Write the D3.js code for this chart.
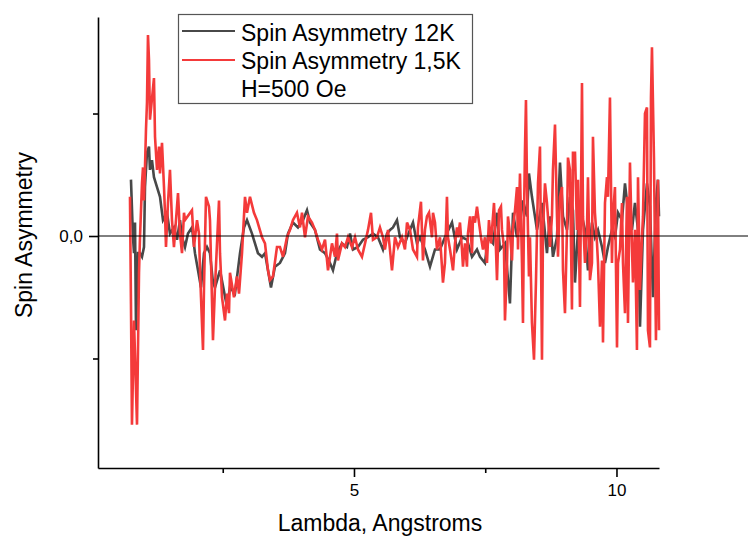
<!DOCTYPE html>
<html>
<head>
<meta charset="utf-8">
<script src="https://cdn.jsdelivr.net/npm/d3@7"></script>
<style>
  body { margin: 0; background: #fff; }
  text { font-family: Arial, "Liberation Sans", sans-serif; fill: #000; }
</style>
</head>
<body>
<div id="viz"></div>
<script>
// Spin asymmetry vs wavelength, two temperatures at H = 500 Oe

var lambda12K = [0.752,0.790,0.810,0.829,0.848,0.886,0.924,0.962,1.000,1.019,1.057,1.095,1.114,1.152,1.190,1.248,1.305,1.362,1.438,1.495,1.571,1.629,1.686,1.724,1.781,1.838,1.914,1.971,2.029,2.086,2.143,2.200,2.257,2.314,2.352,2.448,2.581,2.638,2.733,2.829,2.905,2.962,3.057,3.171,3.248,3.305,3.362,3.419,3.495,3.590,3.686,3.743,3.838,3.933,4.029,4.105,4.162,4.257,4.352,4.448,4.543,4.600,4.676,4.771,4.867,4.924,4.981,5.076,5.171,5.267,5.362,5.457,5.552,5.629,5.686,5.743,5.819,5.876,5.971,6.010,6.124,6.200,6.257,6.352,6.448,6.543,6.638,6.733,6.867,6.962,7.057,7.152,7.248,7.343,7.400,7.495,7.552,7.648,7.724,7.781,7.876,7.971,8.029,8.105,8.162,8.219,8.295,8.333,8.390,8.486,8.581,8.676,8.733,8.790,8.867,8.924,8.981,9.057,9.114,9.171,9.210,9.267,9.343,9.400,9.457,9.533,9.590,9.648,9.724,9.781,9.838,9.914,9.971,10.029,10.105,10.162,10.219,10.295,10.352,10.410,10.448,10.505,10.581,10.638,10.695,10.752,10.790,10.810];
var asym12K = [0.046,-0.001,-0.014,0.011,-0.077,-0.014,-0.014,-0.017,-0.009,0.040,0.068,0.073,0.054,0.062,0.048,0.040,0.032,0.013,0.019,0.002,0.007,-0.003,0.013,-0.001,-0.009,0.002,0.007,-0.014,-0.028,-0.042,-0.014,-0.009,-0.014,-0.038,-0.042,-0.028,-0.058,-0.042,-0.047,-0.014,0.007,0.013,0.002,-0.014,-0.017,-0.014,-0.028,-0.042,-0.025,-0.022,-0.014,0.002,0.011,0.007,0.013,0.021,0.011,0.005,-0.011,-0.014,-0.022,-0.028,-0.014,-0.006,-0.009,0.002,-0.011,-0.009,-0.003,-0.001,0.002,-0.001,-0.011,0.002,0.005,0.007,0.013,-0.001,-0.006,-0.001,0.011,-0.006,-0.001,-0.011,-0.025,-0.011,-0.011,-0.001,0.011,-0.011,-0.001,-0.003,-0.017,-0.011,-0.017,-0.022,-0.001,-0.006,0.019,-0.011,-0.006,-0.055,0.019,-0.001,0.011,0.029,0.016,0.051,0.032,0.005,0.027,-0.014,0.016,-0.017,-0.001,0.060,0.016,0.005,0.032,0.021,-0.038,0.005,0.016,0.005,-0.028,0.011,-0.001,0.005,-0.009,-0.022,-0.009,0.005,-0.001,0.019,0.013,0.043,0.021,0.005,0.027,0.005,-0.074,0.005,0.043,0.024,-0.050,0.027,0.046,0.016];

var lambda15K = [0.733,0.752,0.771,0.810,0.867,0.905,0.924,0.962,0.981,1.000,1.019,1.038,1.057,1.076,1.095,1.114,1.190,1.210,1.248,1.286,1.305,1.343,1.381,1.400,1.419,1.457,1.495,1.533,1.571,1.648,1.686,1.724,1.762,1.781,1.914,1.952,2.010,2.048,2.067,2.086,2.124,2.143,2.181,2.238,2.257,2.314,2.352,2.429,2.448,2.486,2.543,2.581,2.619,2.638,2.714,2.771,2.810,2.867,2.924,2.962,3.019,3.095,3.152,3.248,3.305,3.362,3.400,3.457,3.533,3.590,3.648,3.724,3.781,3.838,3.914,3.971,4.010,4.067,4.124,4.200,4.257,4.314,4.390,4.448,4.505,4.581,4.638,4.676,4.695,4.771,4.829,4.886,4.962,5.019,5.076,5.152,5.210,5.267,5.324,5.362,5.438,5.495,5.552,5.590,5.648,5.724,5.781,5.838,5.914,5.971,6.010,6.067,6.124,6.200,6.219,6.276,6.314,6.352,6.390,6.429,6.486,6.505,6.543,6.581,6.638,6.676,6.695,6.733,6.771,6.790,6.829,6.867,6.886,6.924,6.962,6.981,7.019,7.057,7.076,7.114,7.152,7.171,7.210,7.248,7.267,7.305,7.343,7.381,7.419,7.457,7.495,7.533,7.571,7.610,7.648,7.667,7.705,7.724,7.762,7.800,7.819,7.857,7.876,7.914,7.933,7.971,8.010,8.029,8.067,8.105,8.124,8.162,8.200,8.219,8.238,8.257,8.276,8.295,8.333,8.352,8.390,8.429,8.467,8.505,8.543,8.581,8.600,8.638,8.676,8.695,8.733,8.771,8.790,8.829,8.867,8.886,8.924,8.962,8.981,9.019,9.057,9.076,9.114,9.152,9.171,9.210,9.248,9.267,9.305,9.343,9.362,9.400,9.438,9.457,9.495,9.533,9.552,9.590,9.629,9.648,9.686,9.724,9.743,9.781,9.819,9.838,9.876,9.914,9.933,9.971,10.010,10.029,10.067,10.105,10.124,10.162,10.200,10.219,10.257,10.295,10.314,10.352,10.390,10.410,10.448,10.486,10.505,10.543,10.581,10.600,10.638,10.657,10.676,10.714,10.752,10.790,10.810];
var asym15K = [0.032,-0.055,-0.154,-0.069,-0.154,-0.030,-0.001,0.043,0.056,0.029,0.056,0.087,0.109,0.164,0.144,0.095,0.129,0.081,0.054,0.073,0.051,0.076,0.040,0.019,-0.009,0.027,0.054,0.013,-0.009,0.035,0.002,-0.014,0.019,0.013,0.021,-0.009,0.013,0.002,-0.028,-0.050,-0.093,-0.042,0.032,0.024,0.013,-0.085,-0.042,0.029,-0.014,-0.050,-0.069,-0.047,-0.063,-0.030,-0.050,-0.033,-0.047,-0.014,0.032,0.019,0.032,0.019,0.013,-0.001,-0.006,-0.028,-0.036,-0.033,-0.009,-0.009,-0.017,-0.001,0.005,0.013,0.019,0.007,0.019,-0.001,0.016,0.011,0.005,-0.003,-0.011,-0.003,-0.028,-0.006,-0.017,0.002,-0.020,-0.006,-0.009,-0.001,-0.009,-0.001,-0.011,-0.017,-0.006,0.005,0.019,-0.003,-0.001,0.007,-0.001,-0.011,0.005,-0.028,-0.001,-0.009,-0.001,-0.011,0.011,0.005,-0.011,-0.017,0.007,0.028,-0.020,0.005,0.016,0.019,-0.001,0.019,0.011,-0.011,-0.001,-0.025,-0.038,-0.022,0.032,-0.001,-0.011,-0.022,-0.028,-0.006,0.007,-0.001,0.011,-0.011,-0.025,-0.006,-0.025,0.002,0.016,-0.014,0.016,0.011,0.024,0.011,-0.001,-0.011,-0.001,-0.022,0.013,-0.006,0.016,0.027,-0.011,-0.036,0.021,0.024,0.005,-0.009,-0.069,-0.025,0.016,0.002,-0.020,0.007,0.021,0.040,-0.011,0.051,-0.022,-0.071,0.016,0.070,0.111,0.043,-0.033,-0.001,-0.071,-0.101,-0.036,0.043,0.073,-0.101,0.005,0.043,0.027,0.016,-0.009,0.016,0.054,0.091,0.016,-0.017,0.032,0.040,-0.028,-0.063,0.005,0.064,0.054,-0.060,0.068,0.068,0.005,0.046,-0.058,0.125,0.016,-0.022,0.005,0.048,-0.036,-0.022,0.081,0.019,-0.006,-0.022,-0.074,-0.020,-0.087,0.027,0.048,0.032,0.113,-0.022,0.016,0.040,-0.091,-0.022,-0.011,0.027,-0.022,-0.063,0.032,-0.071,0.060,-0.009,-0.038,0.005,-0.093,0.048,-0.044,-0.001,0.016,0.100,0.105,-0.077,-0.091,0.113,0.154,0.064,-0.085,0.046,-0.077];

var legendLabels = ["Spin Asymmetry 12K", "Spin Asymmetry 1,5K", "H=500 Oe"];
var xMajorTicks = [5, 10];
var xMinorTicks = [2.5, 7.5];
var yMajorTicks = [0];
var yMinorTicks = [-0.1, 0.1];

var width = 748, height = 538;

var svg = d3.select("#viz").append("svg")
    .attr("width", width)
    .attr("height", height);

var x = d3.scaleLinear().domain([0.124, 10.81]).range([98, 659]);
var y = d3.scaleLinear().domain([-0.1894, 0.1788]).range([468, 17]);

var line = d3.line()
    .x(function(d) { return x(d[0]); })
    .y(function(d) { return y(d[1]); });

var data12K = lambda12K.map(function(l, i) { return [l, asym12K[i]]; });
var data15K = lambda15K.map(function(l, i) { return [l, asym15K[i]]; });

svg.append("path")
    .datum(data12K)
    .attr("d", line)
    .attr("fill", "none")
    .attr("stroke", "#484848")
    .attr("stroke-width", 2.6);

svg.append("path")
    .datum(data15K)
    .attr("d", line)
    .attr("fill", "none")
    .attr("stroke", "#f43a3a")
    .attr("stroke-width", 2.6);

// zero line
svg.append("line")
    .attr("x1", x.range()[0]).attr("x2", width)
    .attr("y1", y(0)).attr("y2", y(0))
    .attr("stroke", "#000")
    .attr("stroke-width", 1);

// axes
function styleAxis(g) {
  g.select(".domain").attr("stroke", "#000").attr("stroke-width", 1.6);
  g.selectAll(".tick line").attr("stroke", "#000").attr("stroke-width", 1.6);
  g.selectAll("text").style("font-size", "17px").style("font-family", "Arial, 'Liberation Sans', sans-serif");
}

var xAxisG = svg.append("g")
    .attr("transform", "translate(0," + y.range()[0] + ")")
    .call(d3.axisBottom(x).tickValues(xMajorTicks).tickSize(9).tickSizeOuter(0)
      .tickPadding(7).tickFormat(d3.format("d")));
styleAxis(xAxisG);

var xMinorG = svg.append("g")
    .attr("transform", "translate(0," + y.range()[0] + ")")
    .call(d3.axisBottom(x).tickValues(xMinorTicks).tickSize(5).tickSizeOuter(0).tickFormat(""));
styleAxis(xMinorG);
xMinorG.select(".domain").remove();

var yAxisG = svg.append("g")
    .attr("transform", "translate(" + x.range()[0] + ",0)")
    .call(d3.axisLeft(y).tickValues(yMajorTicks).tickSize(9).tickSizeOuter(0)
      .tickPadding(6).tickFormat(function(d) { return d3.format(".1f")(d).replace(".", ","); }));
styleAxis(yAxisG);

var yMinorG = svg.append("g")
    .attr("transform", "translate(" + x.range()[0] + ",0)")
    .call(d3.axisLeft(y).tickValues(yMinorTicks).tickSize(5).tickSizeOuter(0).tickFormat(""));
styleAxis(yMinorG);
yMinorG.select(".domain").remove();

// axis titles
svg.append("text")
    .attr("x", 380).attr("y", 531)
    .attr("text-anchor", "middle")
    .style("font-size", "23px")
    .text("Lambda, Angstroms");

svg.append("text")
    .attr("transform", "translate(32,235) rotate(-90)")
    .attr("text-anchor", "middle")
    .style("font-size", "23px")
    .text("Spin Asymmetry");

// legend
var legend = svg.append("g");
legend.append("rect")
    .attr("x", 178.5).attr("y", 14.5)
    .attr("width", 294).attr("height", 89)
    .attr("fill", "#fff")
    .attr("stroke", "#555")
    .attr("stroke-width", 1.2);

var legendColors = ["#484848", "#f43a3a"];
var legendLineY = [31, 60];
legendColors.forEach(function(c, i) {
  legend.append("line")
      .attr("x1", 182).attr("x2", 235)
      .attr("y1", legendLineY[i]).attr("y2", legendLineY[i])
      .attr("stroke", c)
      .attr("stroke-width", 2.2);
});

var legendBaselines = [41, 69, 97];
legendLabels.forEach(function(t, i) {
  legend.append("text")
      .attr("x", 241).attr("y", legendBaselines[i])
      .style("font-size", "23px")
      .text(t);
});
</script>
</body>
</html>
